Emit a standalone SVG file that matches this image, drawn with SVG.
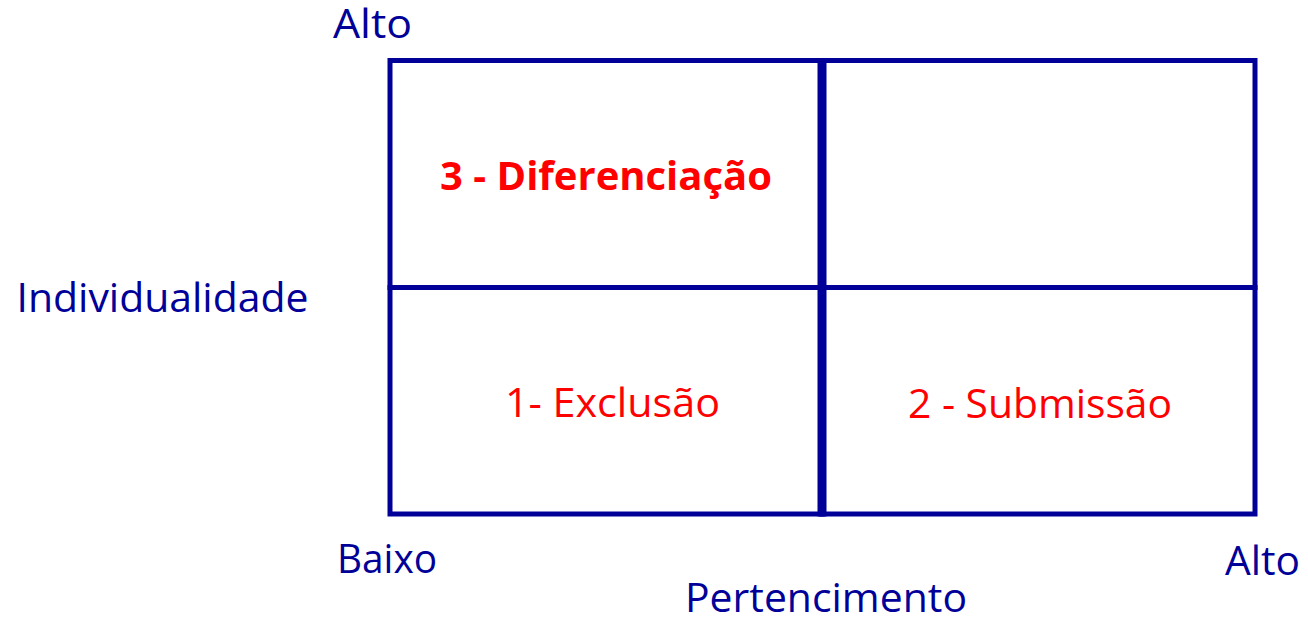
<svg xmlns="http://www.w3.org/2000/svg" width="1308" height="617" viewBox="0 0 1308 617">
  <style>
    .cell { fill: #ffffff; stroke: #000099; stroke-width: 5; }
    .axis { font-family: "Open Sans", "Noto Sans", "Liberation Sans", sans-serif; font-size: 40px; fill: #000099; }
    .lbl { font-family: "Open Sans", "Noto Sans", "Liberation Sans", sans-serif; font-size: 40px; fill: #ff0000; }
    .bold { font-weight: bold; }
  </style>
  <rect width="1308" height="617" fill="#ffffff"/>
  <g id="q-top-left">
    <rect class="cell" x="390" y="60.5" width="432" height="227"/>
    <text class="lbl bold" x="440" y="189.5" textLength="332" lengthAdjust="spacingAndGlyphs">3 - Diferenciação</text>
  </g>
  <g id="q-top-right">
    <rect class="cell" x="822" y="60.5" width="433" height="227"/>
  </g>
  <g id="q-bottom-left">
    <rect class="cell" x="390" y="287.5" width="432" height="226.5"/>
    <text class="lbl" x="505" y="416.7" textLength="215" lengthAdjust="spacingAndGlyphs">1- Exclusão</text>
  </g>
  <g id="q-bottom-right">
    <rect class="cell" x="822" y="287.5" width="433" height="226.5"/>
    <text class="lbl" x="908" y="417.5" textLength="264" lengthAdjust="spacingAndGlyphs">2 - Submissão</text>
  </g>
  <g id="connectors">
    <line x1="822" y1="58" x2="822" y2="516.5" stroke="#000099" stroke-width="9"/>
  </g>
  <g id="axis-labels">
    <text class="axis" x="333" y="37.7" textLength="79" lengthAdjust="spacingAndGlyphs">Alto</text>
    <text class="axis" x="16.5" y="311.7" textLength="292" lengthAdjust="spacingAndGlyphs">Individualidade</text>
    <text class="axis" x="337" y="573.3" textLength="100" lengthAdjust="spacingAndGlyphs">Baixo</text>
    <text class="axis" x="685" y="611.7" textLength="282" lengthAdjust="spacingAndGlyphs">Pertencimento</text>
    <text class="axis" x="1225" y="575" textLength="75" lengthAdjust="spacingAndGlyphs">Alto</text>
  </g>
</svg>
